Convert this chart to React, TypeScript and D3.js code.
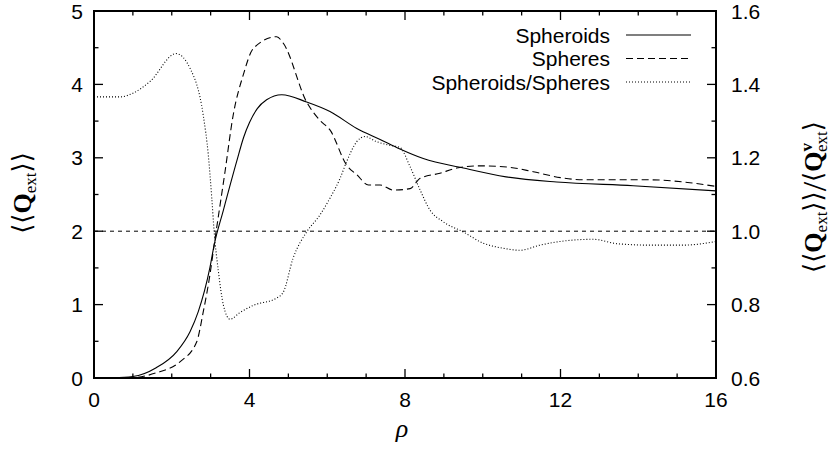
import React from "react";
import * as d3 from "d3";

// ---- data ----
const rhoSpheroids = [0, 0.5, 1.0, 1.6, 2.13, 2.47, 2.68, 2.98, 3.09, 3.32, 3.67, 3.85, 4.0, 4.2, 4.44, 4.83, 5.47, 6.07, 6.76, 7.36, 7.87, 8.47, 9.5, 10.6, 11.9, 13.87, 16];
const qSpheroids = [0, 0.003, 0.02, 0.14, 0.36, 0.63, 0.9, 1.5, 1.81, 2.27, 2.95, 3.28, 3.48, 3.67, 3.79, 3.86, 3.76, 3.63, 3.4, 3.25, 3.12, 2.99, 2.86, 2.74, 2.67, 2.62, 2.55];

const rhoSpheres = [0, 1.0, 1.6, 2.21, 2.64, 2.81, 2.98, 3.09, 3.37, 3.58, 3.84, 4.1, 4.7, 4.87, 5.47, 5.81, 6.07, 6.5, 6.76, 7.06, 7.36, 7.7, 8.13, 8.39, 8.9, 9.33, 9.93, 10.7, 11.3, 12.0, 12.59, 13.19, 14.3, 15.33, 16];
const qSpheres = [0, 0.005, 0.07, 0.22, 0.49, 0.9, 1.4, 1.81, 2.81, 3.58, 4.13, 4.49, 4.65, 4.56, 3.76, 3.51, 3.38, 2.9, 2.77, 2.63, 2.63, 2.56, 2.58, 2.72, 2.79, 2.86, 2.89, 2.87, 2.81, 2.73, 2.7, 2.7, 2.7, 2.66, 2.61];

const rhoRatio = [0, 0.67, 1.0, 1.44, 2.11, 2.47, 2.81, 2.94, 3.03, 3.09, 3.2, 3.33, 3.5, 3.75, 4.1, 4.7, 4.87, 5.12, 5.47, 5.81, 6.07, 6.33, 6.5, 6.76, 6.97, 7.27, 7.61, 7.87, 8.13, 8.39, 8.64, 8.98, 9.5, 10.0, 10.5, 10.96, 11.47, 11.99, 12.84, 13.45, 14.3, 15.16, 16];
const ratioValues = [1.366, 1.366, 1.376, 1.408, 1.484, 1.444, 1.316, 1.208, 1.09, 1.0, 0.89, 0.798, 0.76, 0.778, 0.798, 0.818, 0.834, 0.926, 0.998, 1.044, 1.09, 1.144, 1.19, 1.244, 1.258, 1.244, 1.234, 1.228, 1.176, 1.112, 1.058, 1.026, 0.998, 0.968, 0.954, 0.948, 0.962, 0.972, 0.978, 0.966, 0.962, 0.962, 0.972];

const xMajorTicks = [0, 4, 8, 12, 16];
const yLeftTicks = [0, 1, 2, 3, 4, 5];
const yRightTicks = [0.6, 0.8, 1.0, 1.2, 1.4, 1.6];
const legendLabels = ["Spheroids", "Spheres", "Spheroids/Spheres"];
const referenceLevel = 2;

const W = 833, H = 466;
const L = 94, R = 716, T = 11, B = 378;
const FONT = "'Liberation Sans', Arial, Helvetica, sans-serif";
const SERIF = "'Liberation Serif', 'DejaVu Serif', 'Times New Roman', serif";

export default function App() {
  const x = d3.scaleLinear().domain([0, 16]).range([L, R]);
  const yL = d3.scaleLinear().domain([0, 5]).range([B, T]);
  const yR = d3.scaleLinear().domain([0.6, 1.6]).range([B, T]);

  const lineL = d3.line<[number, number]>().x(d => x(d[0])).y(d => yL(d[1])).curve(d3.curveMonotoneX);
  const lineR = d3.line<[number, number]>().x(d => x(d[0])).y(d => yR(d[1])).curve(d3.curveMonotoneX);

  const spheroids = lineL(rhoSpheroids.map((r, i) => [r, qSpheroids[i]])) || "";
  const spheres = lineL(rhoSpheres.map((r, i) => [r, qSpheres[i]])) || "";
  const ratio = lineR(rhoRatio.map((r, i) => [r, ratioValues[i]])) || "";

  const xMinor = d3.range(0, 17, 1).filter(v => !xMajorTicks.includes(v));
  const yLMinor = d3.range(0.5, 5, 1);
  const yRMinor = [0.7, 0.9, 1.1, 1.3, 1.5];
  const MAJ = 9, MIN = 4.5;

  const styles = [
    { dash: undefined as string | undefined },
    { dash: "7,4" },
    { dash: "1,2" },
  ];
  const legendY = [35, 58.5, 82];

  return (
    <svg width={W} height={H} style={{ position: "absolute", left: 0, top: 0, background: "#fff" }}>
      <rect x={0} y={0} width={W} height={H} fill="#fff" />
      <defs>
        <clipPath id="plot">
          <rect x={L} y={T} width={R - L} height={B - T} />
        </clipPath>
      </defs>

      {/* ticks */}
      <g stroke="#000" strokeWidth={1.3}>
        {xMajorTicks.map(v => (
          <g key={"xm" + v}>
            <line x1={x(v)} x2={x(v)} y1={B} y2={B - MAJ} />
            <line x1={x(v)} x2={x(v)} y1={T} y2={T + MAJ} />
          </g>
        ))}
        {xMinor.map(v => (
          <g key={"xn" + v}>
            <line x1={x(v)} x2={x(v)} y1={B} y2={B - MIN} />
            <line x1={x(v)} x2={x(v)} y1={T} y2={T + MIN} />
          </g>
        ))}
        {yLeftTicks.map(v => (
          <line key={"yl" + v} x1={L} x2={L + MAJ} y1={yL(v)} y2={yL(v)} />
        ))}
        {yLMinor.map(v => (
          <line key={"yln" + v} x1={L} x2={L + MIN} y1={yL(v)} y2={yL(v)} />
        ))}
        {yRightTicks.map(v => (
          <line key={"yr" + v} x1={R} x2={R - MAJ} y1={yR(v)} y2={yR(v)} />
        ))}
        {yRMinor.map(v => (
          <line key={"yrn" + v} x1={R} x2={R - MIN} y1={yR(v)} y2={yR(v)} />
        ))}
      </g>

      {/* tick labels */}
      <g fontFamily={FONT} fontSize={21} fill="#000">
        {xMajorTicks.map(v => (
          <text key={"xl" + v} x={x(v)} y={B + 29} textAnchor="middle">{v}</text>
        ))}
        {yLeftTicks.map(v => (
          <text key={"yll" + v} x={L - 11} y={yL(v) + 7.5} textAnchor="end">{v}</text>
        ))}
        {yRightTicks.map(v => (
          <text key={"yrl" + v} x={R + 15} y={yR(v) + 7.5} textAnchor="start">{v.toFixed(1)}</text>
        ))}
      </g>

      {/* curves */}
      <g clipPath="url(#plot)" fill="none" stroke="#000">
        <line x1={L} x2={R} y1={yL(referenceLevel)} y2={yL(referenceLevel)} strokeWidth={1} strokeDasharray="4,4" />
        <path d={spheroids} strokeWidth={1.1} />
        <path d={spheres} strokeWidth={1.1} strokeDasharray={styles[1].dash} />
        <path d={ratio} strokeWidth={1.1} strokeDasharray={styles[2].dash} />
      </g>

      {/* legend */}
      <g fontFamily={FONT} fontSize={21}>
        {legendLabels.map((lab, i) => (
          <g key={lab}>
            <text x={610} y={legendY[i] + 7.5} textAnchor="end">{lab}</text>
            <line x1={626} x2={691} y1={legendY[i]} y2={legendY[i]} stroke="#000" strokeWidth={1.1} strokeDasharray={styles[i].dash} />
          </g>
        ))}
      </g>

      {/* frame */}
      <rect x={L} y={T} width={R - L} height={B - T} fill="none" stroke="#000" strokeWidth={2} />

      {/* axis titles */}
      <text x={402} y={437} fontFamily={SERIF} fontStyle="italic" fontSize={26} textAnchor="middle">ρ</text>

      <g transform="translate(31,193) rotate(-90)">
        <text textAnchor="middle" fontFamily={SERIF} fontSize={26}>
          <tspan>⟨⟨</tspan>
          <tspan fontWeight="bold">Q</tspan>
          <tspan fontSize={17} dy={5}>ext</tspan>
          <tspan dy={-5}>⟩⟩</tspan>
        </text>
      </g>

      <g transform="translate(822,197) rotate(-90)">
        <text textAnchor="middle" fontFamily={SERIF} fontSize={26}>
          <tspan>⟨⟨</tspan>
          <tspan fontWeight="bold">Q</tspan>
          <tspan fontSize={17} dy={5}>ext</tspan>
          <tspan dy={-5}>⟩⟩</tspan>
          <tspan fontSize={34} dy={4}>/</tspan>
          <tspan dy={-4}>⟨</tspan>
          <tspan fontWeight="bold">Q</tspan>
          <tspan fontSize={17} fontWeight="bold" dy={-10}>v</tspan>
          <tspan fontSize={17} dx={-9} dy={15}>ext</tspan>
          <tspan dy={-5}>⟩</tspan>
        </text>
      </g>
    </svg>
  );
}
